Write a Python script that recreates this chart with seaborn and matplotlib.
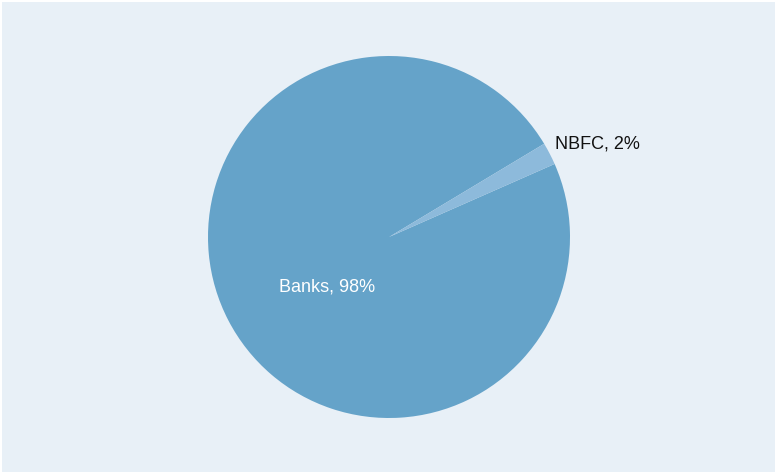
import matplotlib
matplotlib.use("Agg")
import matplotlib.pyplot as plt
import matplotlib.patches as mpatches
import numpy as np
import seaborn as sns

# Share of lending by institution type
categories = ["Banks", "NBFC"]
shares = [98, 2]
slice_colors = ["#65a3c9", "#8dbadb"]

sns.set_style("white")
plt.rcParams["font.family"] = ["Liberation Sans", "DejaVu Sans"]

W, H, DPI = 775, 472, 100
fig = plt.figure(figsize=(W / DPI, H / DPI), dpi=DPI, facecolor="white")

# light bluish graph region, with a thin white margin at top and left
fig.patches.append(mpatches.Rectangle((2 / W, 0), 1 - 2 / W, 1 - 2 / H,
                                      transform=fig.transFigure,
                                      facecolor="#e8f0f7", edgecolor="none",
                                      zorder=-10))

ax = fig.add_axes([0, 0, 1, 1])
ax.set_facecolor("none")
ax.set_zorder(5)

# pie centre and radius in pixels; scale so one data unit equals the radius
cx, cy, r = 389, 472 - 237, 181

start = 31.0
wedges, _ = ax.pie(shares, colors=slice_colors, startangle=start,
                   counterclock=True, radius=1.0, center=(0, 0),
                   wedgeprops=dict(linewidth=0))
ax.set_xlim(-cx / r, (W - cx) / r)
ax.set_ylim(-cy / r, (H - cy) / r)
ax.set_aspect("auto")
ax.axis("off")

labels = [f"{c}, {v}%" for c, v in zip(categories, shares)]

# Banks label sits inside its slice
ax.text(-0.343, -0.276, labels[0], color="white", fontsize=13,
        ha="center", va="center")

# NBFC label just outside the rim, beside its wedge
w = wedges[1]
mid = np.deg2rad((w.theta1 + w.theta2) / 2 + 2)
ax.text(1.05 * np.cos(mid), 1.05 * np.sin(mid), labels[1], color="#111111",
        fontsize=13, ha="left", va="center")

fig.savefig("out.png", dpi=DPI, facecolor=fig.get_facecolor())
